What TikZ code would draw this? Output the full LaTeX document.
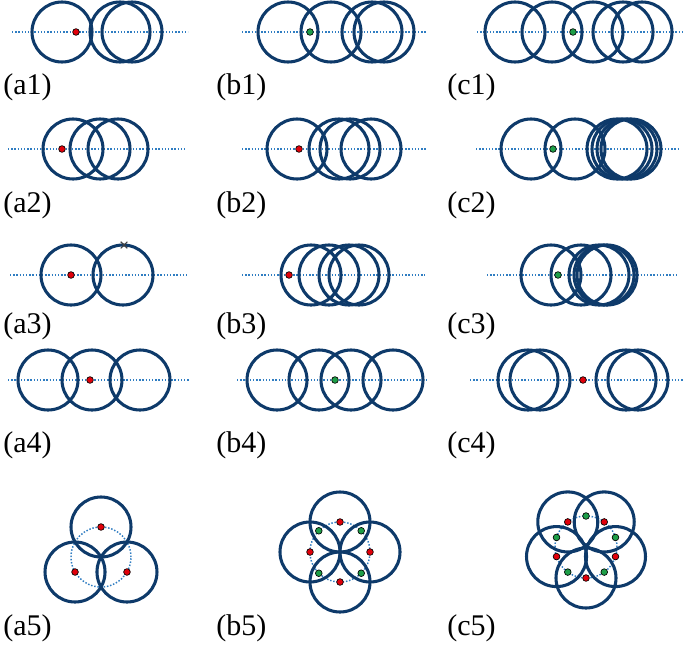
\documentclass[tikz,border=0pt]{standalone}
\usepackage{fontspec}
\setmainfont{Liberation Serif}
\definecolor{navy}{HTML}{0E3A6A}
\definecolor{axisblue}{HTML}{2F7DC2}
\definecolor{dotred}{HTML}{E0000A}
\definecolor{dotgreen}{HTML}{1E9E48}
\tikzset{
 ring/.style={draw=navy, line width=2.3pt},
 axisline/.style={draw=axisblue, line width=1.1pt, dash pattern=on 1.1pt off 1.3pt},
 basedot/.style={circle, draw=black, line width=0.5pt, minimum size=5pt, inner sep=0pt},
 rdot/.style={basedot, fill=dotred},
 gdot/.style={basedot, fill=dotgreen},
 lbl/.style={anchor=west, inner sep=0pt, font=\fontsize{22.5}{27}\selectfont},
 xmark/.style={draw=black!75, line width=0.8pt}
}
\begin{document}
\begin{tikzpicture}[x=0.75pt,y=-0.75pt]
\useasboundingbox (0,0) rectangle (685,646);
% ---------- row 1 ----------
\draw[axisline] (12,32) -- (188,32);
\foreach \c in {62,120,132} \draw[ring] (\c,32) circle[radius=30];
\node[rdot] (a1d) at (76,32) {};
\draw[axisline] (242,32) -- (427,32);
\foreach \c in {288,331,372,384} \draw[ring] (\c,32) circle[radius=30];
\node[gdot] (b1d) at (310,32) {};
\draw[axisline] (477,32) -- (683,32);
\foreach \c in {515,552,593,623,642} \draw[ring] (\c,32) circle[radius=30];
\node[gdot] (c1d) at (573,32) {};
\node[lbl] (la1) at (3,87) {(a1)};
\node[lbl] (lb1) at (216,87) {(b1)};
\node[lbl] (lc1) at (447,87) {(c1)};
% ---------- row 2 ----------
\draw[axisline] (8,149) -- (185,149);
\foreach \c in {73,100,118} \draw[ring] (\c,149) circle[radius=30];
\node[rdot] (a2d) at (62,149) {};
\draw[axisline] (242,149) -- (427,149);
\foreach \c in {297,339,350,371} \draw[ring] (\c,149) circle[radius=30];
\node[rdot] (b2d) at (299,149) {};
\draw[axisline] (476,149) -- (680,149);
\foreach \c in {531,575,617,622,627,631} \draw[ring] (\c,149) circle[radius=30];
\node[gdot] (c2d) at (553,149) {};
\node[lbl] (la2) at (3,205) {(a2)};
\node[lbl] (lb2) at (216,205) {(b2)};
\node[lbl] (lc2) at (447,205) {(c2)};
% ---------- row 3 ----------
\draw[axisline] (10,275) -- (187,275);
\foreach \c in {71,123} \draw[ring] (\c,275) circle[radius=30];
\node[rdot] (a3d) at (71,275) {};
\coordinate (xm) at (124,245);
\draw[xmark] ([xshift=-2.5pt,yshift=2.5pt]xm) -- ([xshift=2.5pt,yshift=-2.5pt]xm);
\draw[xmark] ([xshift=-2.5pt,yshift=-2.5pt]xm) -- ([xshift=2.5pt,yshift=2.5pt]xm);
\draw[axisline] (242,275) -- (425,275);
\foreach \c in {311,329,349,359} \draw[ring] (\c,275) circle[radius=30];
\node[rdot] (b3d) at (289,275) {};
\draw[axisline] (487,275) -- (678,275);
\foreach \c in {551,581,599,604,607} \draw[ring] (\c,275) circle[radius=30];
\node[gdot] (c3d) at (558,275) {};
\node[lbl] (la3) at (3,326) {(a3)};
\node[lbl] (lb3) at (216,326) {(b3)};
\node[lbl] (lc3) at (447,326) {(c3)};
% ---------- row 4 ----------
\draw[axisline] (8,380) -- (190,380);
\foreach \c in {48,92,140} \draw[ring] (\c,380) circle[radius=30];
\node[rdot] (a4d) at (90,380) {};
\draw[axisline] (237,380) -- (427,380);
\foreach \c in {277,319,351,393} \draw[ring] (\c,380) circle[radius=30];
\node[gdot] (b4d) at (335,380) {};
\draw[axisline] (470,380) -- (683,380);
\foreach \c in {528,540,626,638} \draw[ring] (\c,380) circle[radius=30];
\node[rdot] (c4d) at (583,380) {};
\node[lbl] (la4) at (3,445) {(a4)};
\node[lbl] (lb4) at (216,445) {(b4)};
\node[lbl] (lc4) at (447,445) {(c4)};
% ---------- row 5 ----------
\begin{scope}[shift={(101,557)}, yscale=-1]
 \draw[axisline] (0,0) circle[radius=30];
 \foreach \a in {90,210,330} \draw[ring] (\a:30) circle[radius=30];
 \foreach \a in {90,210,330} \node[rdot] (a5r\a) at (\a:30) {};
\end{scope}
\begin{scope}[shift={(340,552)}, yscale=-1]
 \draw[axisline] (0,0) circle[radius=30];
 \foreach \a in {0,90,180,270} \draw[ring] (\a:30) circle[radius=30];
 \foreach \a in {0,90,180,270} \node[rdot] (b5r\a) at (\a:30) {};
 \foreach \a in {45,135,225,315} \node[gdot] (b5g\a) at (\a:30) {};
\end{scope}
\begin{scope}[shift={(586,547)}, yscale=-1]
 \draw[axisline] (0,0) circle[radius=31];
 \foreach \a in {54,126,198,270,342} \draw[ring] (\a:31) circle[radius=30];
 \foreach \a in {54,126,198,270,342} \node[rdot] (c5r\a) at (\a:31) {};
 \foreach \a in {18,90,162,234,306} \node[gdot] (c5g\a) at (\a:31) {};
\end{scope}
\node[lbl] (la5) at (3,628) {(a5)};
\node[lbl] (lb5) at (216,628) {(b5)};
\node[lbl] (lc5) at (447,628) {(c5)};
\end{tikzpicture}
\end{document}
